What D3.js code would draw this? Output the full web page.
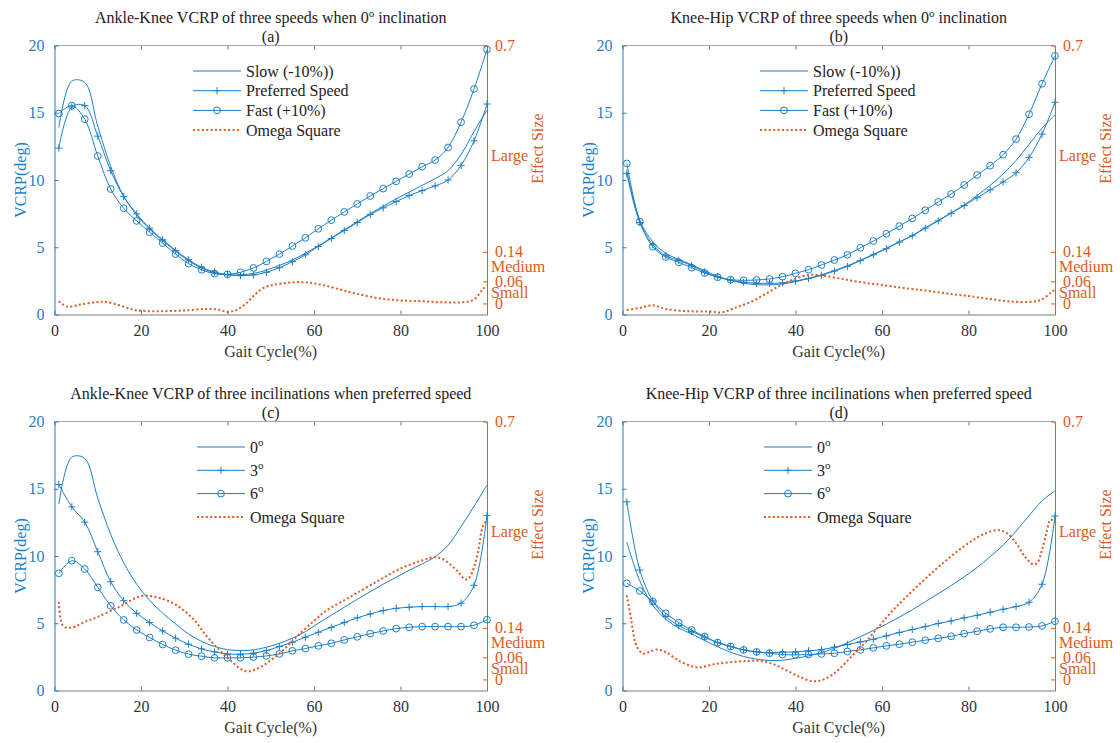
<!DOCTYPE html>
<html><head><meta charset="utf-8">
<script src="https://cdn.jsdelivr.net/npm/d3@7"></script>
<style>
body{margin:0;background:#fff}
text{font-family:"Liberation Serif","Times New Roman",serif;}
</style></head><body>
<svg id="chart" width="1120" height="743"></svg>
<script>
// ---------- data ----------
const gait = [1,4,7,10,13,16,19,22,25,28,31,34,37,40,43,46,49,52,55,58,61,64,67,70,73,76,79,82,85,88,91,94,97,100];
const xTicks = [0,20,40,60,80,100];
const leftTicks = [0,5,10,15,20];
const rightTicks = [0,0.06,0.14,0.7];
const effectLabels = [["Small",0.03],["Medium",0.10],["Large",0.40]];

// (a) Ankle-Knee, speeds
const aSlow = [13.9,17.35,17.25,14.0,11.0,8.8,7.4,6.35,5.5,4.7,4.0,3.45,3.1,2.95,2.95,3.05,3.3,3.65,4.05,4.55,5.1,5.7,6.3,6.9,7.5,8.05,8.6,9.1,9.6,10.1,10.7,11.9,13.6,15.2];
const aPref = [12.37,15.43,15.53,13.26,10.69,8.77,7.48,6.42,5.56,4.77,4.07,3.51,3.16,2.96,2.89,2.94,3.14,3.48,3.93,4.44,5.06,5.65,6.25,6.84,7.43,7.93,8.4,8.84,9.21,9.56,10.0,11.09,12.91,15.65];
const aFast = [14.94,15.53,14.52,11.78,9.33,7.9,6.96,6.12,5.31,4.49,3.78,3.33,3.04,2.99,3.14,3.46,3.95,4.49,5.09,5.70,6.37,7.01,7.63,8.22,8.81,9.36,9.9,10.44,10.99,11.48,12.42,14.3,16.77,19.7];
const aOmegaX = [1,3,6,10,12,15,18,20,25,30,35,38,40,42,44,46,48,50,53,56,59,62,66,70,75,80,85,90,95,97,99,100];
const aOmega = [0.006,-0.009,-0.003,0.004,0.004,-0.005,-0.016,-0.02,-0.021,-0.019,-0.015,-0.017,-0.023,-0.018,-0.003,0.02,0.04,0.049,0.055,0.058,0.056,0.05,0.038,0.026,0.014,0.008,0.006,0.003,0.004,0.011,0.038,0.049];

// (b) Knee-Hip, speeds
const bSlow = [10.6,7.0,5.4,4.55,4.1,3.7,3.25,2.85,2.55,2.33,2.22,2.2,2.27,2.45,2.68,2.95,3.27,3.62,4.03,4.47,4.92,5.4,5.88,6.44,6.99,7.56,8.14,8.85,9.6,10.45,11.45,12.65,13.85,14.85];
const bPref = [10.49,6.84,5.19,4.37,4.02,3.63,3.16,2.79,2.54,2.40,2.32,2.32,2.35,2.49,2.67,2.91,3.23,3.58,4.0,4.44,4.89,5.38,5.85,6.42,6.96,7.53,8.1,8.69,9.26,9.85,10.54,11.68,13.41,15.78];
const bFast = [11.23,6.91,5.04,4.27,3.88,3.48,3.09,2.77,2.59,2.54,2.57,2.64,2.81,3.06,3.33,3.68,4.05,4.44,4.96,5.46,6.0,6.57,7.14,7.75,8.37,8.96,9.63,10.37,11.06,11.88,13.04,14.89,17.16,19.23];
const bOmegaX = [1,4,7,10,15,20,23,26,30,34,37,40,43,46,50,55,60,65,70,75,80,85,90,95,97,99,100];
const bOmega = [-0.018,-0.012,-0.005,-0.015,-0.021,-0.022,-0.024,-0.012,0.006,0.032,0.052,0.067,0.077,0.076,0.068,0.058,0.05,0.042,0.035,0.027,0.02,0.012,0.005,0.005,0.011,0.029,0.038];

// (c) Ankle-Knee, inclinations
const cZero = [13.86,17.35,17.25,14.3,11.6,9.5,7.9,6.7,5.75,4.95,4.2,3.65,3.27,3.04,2.97,3.02,3.22,3.51,3.89,4.38,5.0,5.6,6.19,6.78,7.35,7.9,8.42,8.94,9.41,9.95,10.8,12.18,13.7,15.27];
const cThree = [15.32,13.66,12.52,10.32,8.09,6.68,5.74,5.05,4.43,3.89,3.44,3.09,2.87,2.72,2.70,2.77,2.97,3.27,3.59,3.96,4.33,4.70,5.05,5.40,5.69,5.94,6.11,6.19,6.24,6.24,6.24,6.49,7.82,13.0];
const cSix = [8.71,9.65,9.03,7.67,6.29,5.25,4.5,3.94,3.42,3.0,2.70,2.55,2.43,2.43,2.43,2.48,2.57,2.72,2.95,3.12,3.32,3.51,3.76,3.99,4.23,4.43,4.6,4.7,4.75,4.75,4.75,4.75,4.85,5.27];
const cOmegaX = [1,2,4,7,10,15,20,24,28,32,35,38,41,44,46,48,50,53,56,60,63,67,70,75,80,85,88,90,93,95,96,97,98,99,100];
const cOmega = [0.21,0.145,0.141,0.156,0.17,0.197,0.226,0.222,0.203,0.165,0.12,0.081,0.048,0.023,0.025,0.036,0.052,0.081,0.116,0.159,0.188,0.215,0.235,0.269,0.301,0.323,0.332,0.325,0.296,0.271,0.278,0.305,0.35,0.414,0.432];

// (d) Knee-Hip, inclinations
const dZero = [11.03,8.15,6.35,5.3,4.65,4.2,3.72,3.25,2.85,2.53,2.33,2.23,2.25,2.39,2.57,2.81,3.14,3.55,4.0,4.46,4.94,5.45,6.0,6.6,7.2,7.8,8.45,9.15,9.95,10.8,11.85,13.0,14.1,14.85];
const dThree = [14.03,8.96,6.66,5.5,4.83,4.38,3.96,3.56,3.27,3.02,2.87,2.82,2.85,2.87,2.95,3.04,3.22,3.42,3.61,3.81,4.06,4.31,4.53,4.75,4.98,5.17,5.4,5.59,5.82,6.04,6.24,6.56,7.9,12.97];
const dSix = [7.97,7.4,6.61,5.74,5.05,4.5,4.01,3.56,3.27,3.02,2.87,2.77,2.67,2.65,2.67,2.72,2.77,2.9,3.02,3.17,3.32,3.44,3.59,3.74,3.88,4.03,4.23,4.41,4.58,4.7,4.7,4.72,4.8,5.15];
const dOmegaX = [1,2,3,4,5,6,8,10,13,16,18,21,25,29,32,35,38,41,44,46,48,50,53,56,59,62,65,70,75,80,84,87,89,91,93,95,96,97,98,99,100];
const dOmega = [0.228,0.163,0.099,0.077,0.07,0.074,0.081,0.074,0.051,0.036,0.033,0.041,0.047,0.05,0.05,0.041,0.024,0.007,-0.005,-0.002,0.009,0.027,0.063,0.099,0.14,0.181,0.217,0.273,0.325,0.37,0.397,0.405,0.396,0.37,0.334,0.312,0.318,0.352,0.397,0.434,0.425];

const speedNames = [["Slow (-10%))"],["Preferred Speed"],["Fast (+10%)"]];
const inclNames = [["0","o"],["3","o"],["6","o"]];

const panels = [
  {title:["Ankle-Knee VCRP of three speeds when 0","o"," inclination"], sub:"(a)", left:54.5, top:45.5, names:speedNames,
   series:[aSlow,aPref,aFast], ox:aOmegaX, oy:aOmega, legX:193},
  {title:["Knee-Hip VCRP of three speeds when 0","o"," inclination"], sub:"(b)", left:622.5, top:45.5, names:speedNames,
   series:[bSlow,bPref,bFast], ox:bOmegaX, oy:bOmega, legX:760},
  {title:["Ankle-Knee VCRP of three incilinations when preferred speed"], sub:"(c)", left:54.5, top:421.5, names:inclNames,
   series:[cZero,cThree,cSix], ox:cOmegaX, oy:cOmega, legX:197},
  {title:["Knee-Hip VCRP of three incilinations when preferred speed"], sub:"(d)", left:622.5, top:421.5, names:inclNames,
   series:[dZero,dThree,dSix], ox:dOmegaX, oy:dOmega, legX:764}
];

// ---------- style ----------
const W = 432.5, H = 269;
const BLUE = "#1c7fc7", ORANGE = "#dd5a22", AXISGRAY = "#7a7a7a";
const FS = 16;
const svg = d3.select("#chart");

function addMarker(g, type, cx, cy){
  if(type===1){
    g.append("path").attr("d",`M${cx-3.6},${cy}H${cx+3.6}M${cx},${cy-3.6}V${cy+3.6}`)
      .attr("stroke",BLUE).attr("stroke-width",1).attr("fill","none");
  } else if(type===2){
    g.append("circle").attr("cx",cx).attr("cy",cy).attr("r",3.4)
      .attr("stroke",BLUE).attr("stroke-width",1).attr("fill","none");
  }
}

panels.forEach(p=>{
  const L=p.left, T=p.top, R=L+W, B=T+H;
  const x = d3.scaleLinear().domain([0,100]).range([L,R]);
  const yL = d3.scaleLinear().domain([0,20]).range([B,T]);
  const yR = d3.scaleLinear().domain([-0.03,0.7]).range([B,T]);
  const g = svg.append("g");

  // box top
  g.append("line").attr("x1",L).attr("x2",R).attr("y1",T).attr("y2",T).attr("stroke","#a8a8a8").attr("stroke-width",1);
  const topAx = g.append("g").attr("transform",`translate(0,${T})`)
    .call(d3.axisTop(x).tickValues(xTicks).tickSizeInner(-4).tickSizeOuter(0).tickFormat(""));
  topAx.select(".domain").remove();
  topAx.selectAll("line").attr("stroke",AXISGRAY);

  // bottom axis
  const bot = g.append("g").attr("transform",`translate(0,${B})`)
    .call(d3.axisBottom(x).tickValues(xTicks).tickSizeInner(-4).tickSizeOuter(0).tickPadding(10));
  bot.select(".domain").attr("stroke",AXISGRAY);
  bot.selectAll("line").attr("stroke",AXISGRAY);
  bot.selectAll("text").attr("font-size",FS).attr("fill","#333");

  // left axis
  const lef = g.append("g").attr("transform",`translate(${L},0)`)
    .call(d3.axisLeft(yL).tickValues(leftTicks).tickSizeInner(-4).tickSizeOuter(0).tickPadding(10));
  lef.select(".domain").attr("stroke",BLUE);
  lef.selectAll("line").attr("stroke",BLUE);
  lef.selectAll("text").attr("font-size",FS).attr("fill",BLUE);

  // right axis
  const rig = g.append("g").attr("transform",`translate(${R},0)`)
    .call(d3.axisRight(yR).tickValues(rightTicks).tickSizeInner(-4).tickSizeOuter(0).tickPadding(8)
      .tickFormat(d=>String(d)));
  rig.select(".domain").attr("stroke",ORANGE);
  rig.selectAll("line").attr("stroke",ORANGE);
  rig.selectAll("text").attr("font-size",FS).attr("fill",ORANGE);
  effectLabels.forEach(([t,v])=>{
    g.append("text").attr("x",R+4).attr("y",yR(v)).attr("dy","0.32em").attr("font-size",FS)
      .attr("fill",ORANGE).text(t);
  });

  // axis labels
  g.append("text").attr("transform",`translate(${L-34},${(T+B)/2}) rotate(-90)`)
    .attr("text-anchor","middle").attr("dy","0.35em").attr("font-size",FS).attr("fill",BLUE).text("VCRP(deg)");
  g.append("text").attr("transform",`translate(${R+50},${yR(0.42)}) rotate(-90)`)
    .attr("text-anchor","middle").attr("dy","0.35em").attr("font-size",FS).attr("fill",ORANGE).text("Effect Size");
  g.append("text").attr("x",(L+R)/2).attr("y",B+37).attr("dy","0.35em").attr("text-anchor","middle")
    .attr("font-size",FS).attr("fill","#333").text("Gait Cycle(%)");

  // titles
  const tt = g.append("text").attr("x",(L+R)/2).attr("y",T-28).attr("dy","0.35em").attr("text-anchor","middle")
    .attr("font-size",FS).attr("fill","#222");
  p.title.forEach((s,i)=>{
    const ts = tt.append("tspan").text(s);
    if(i===1){ ts.attr("font-size",11).attr("dy",-6); }
    if(i===2){ ts.attr("dy",6); }
  });
  g.append("text").attr("x",(L+R)/2).attr("y",T-9.5).attr("dy","0.35em").attr("text-anchor","middle")
    .attr("font-size",FS).attr("fill","#222").text(p.sub);

  // data lines
  const line = d3.line().x(d=>x(d[0])).y(d=>yL(d[1])).curve(d3.curveCatmullRom.alpha(0.5));
  p.series.forEach((vals,si)=>{
    const pts = gait.map((gx,i)=>[gx,vals[i]]);
    g.append("path").attr("d",line(pts)).attr("fill","none").attr("stroke",BLUE).attr("stroke-width",1);
    if(si>0) pts.forEach(d=>addMarker(g,si,x(d[0]),yL(d[1])));
  });
  const oline = d3.line().x(d=>x(d[0])).y(d=>yR(d[1])).curve(d3.curveCatmullRom.alpha(0.5));
  g.append("path").attr("d",oline(p.ox.map((ox,i)=>[ox,p.oy[i]]))).attr("fill","none")
    .attr("stroke",ORANGE).attr("stroke-width",2).attr("stroke-dasharray","2 2.4");

  // legend
  const incl = p.names[0].length>1;
  const rowY0 = T+25.5;
  const step = incl ? 23.3 : 19.7;
  const lx0 = p.legX, lx1 = p.legX+48;
  const names = p.names.concat([["Omega Square"]]);
  names.forEach((nm,i)=>{
    const yy = rowY0 + i*step;
    const ln = g.append("line").attr("x1",lx0).attr("x2",lx1).attr("y1",yy).attr("y2",yy);
    if(i<3){ ln.attr("stroke",BLUE).attr("stroke-width",1); addMarker(g,i,(lx0+lx1)/2,yy); }
    else { ln.attr("stroke",ORANGE).attr("stroke-width",2).attr("stroke-dasharray","2 2.4"); }
    const t = g.append("text").attr("x",lx1+5).attr("y",yy).attr("dy","0.35em").attr("font-size",FS).attr("fill","#222");
    t.append("tspan").text(nm[0]);
    if(nm.length>1) t.append("tspan").attr("font-size",11).attr("dy",-7).text(nm[1]);
  });
});
</script>
</body></html>
